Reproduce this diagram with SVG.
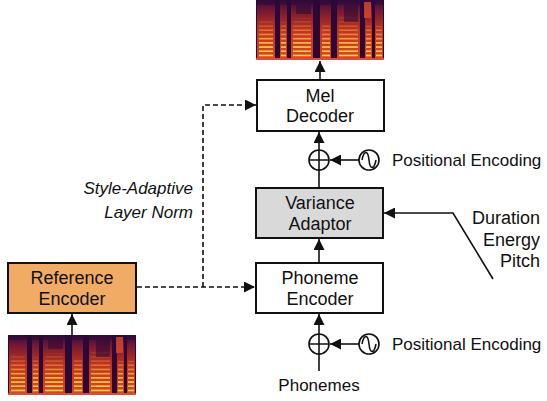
<svg xmlns="http://www.w3.org/2000/svg" width="547" height="401" viewBox="0 0 547 401">
<style>
text{font-family:"Liberation Sans",Arial,sans-serif;font-size:17px;fill:#111}
.b{font-size:18px}
.box{stroke:#111;stroke-width:2}
.ln{stroke:#111;stroke-width:1.6;fill:none}
.dash{stroke:#111;stroke-width:1.6;fill:none;stroke-dasharray:5 3}
.c{text-anchor:middle}
</style>
<defs>
<marker id="a" viewBox="0 0 10 10" refX="10" refY="5" markerWidth="11" markerHeight="11" orient="auto" markerUnits="userSpaceOnUse">
<path d="M0,0 L10,5 L0,10 z" fill="#111"/>
</marker>
<linearGradient id="sg" x1="0" y1="0" x2="0" y2="1">
<stop offset="0" stop-color="#3a0c40"/>
<stop offset="0.2" stop-color="#7a1a30"/>
<stop offset="0.5" stop-color="#c23420"/>
<stop offset="1" stop-color="#d9481c"/>
</linearGradient>
<pattern id="harm" width="6" height="4.2" patternUnits="userSpaceOnUse">
<rect width="6" height="1.7" fill="#ffd64e"/>
</pattern>
<linearGradient id="fade" x1="0" y1="0" x2="0" y2="1">
<stop offset="0" stop-color="#fff" stop-opacity="0"/>
<stop offset="0.4" stop-color="#fff" stop-opacity="0.15"/>
<stop offset="0.7" stop-color="#fff" stop-opacity="0.8"/>
<stop offset="1" stop-color="#fff" stop-opacity="1"/>
</linearGradient>
<mask id="hm"><rect width="128" height="60" fill="url(#fade)"/></mask>
<g id="spec">
<rect width="128" height="60" fill="#2a0838"/>
<g fill="url(#sg)">
<rect x="1" y="0" width="18" height="60"/>
<rect x="24" y="0" width="7" height="60"/>
<rect x="35" y="0" width="22" height="60"/>
<rect x="64" y="0" width="11" height="60"/>
<rect x="81" y="0" width="23" height="60"/>
<rect x="109" y="0" width="7" height="60"/>
<rect x="119" y="0" width="8" height="60"/>
</g>
<g fill="url(#harm)" mask="url(#hm)">
<rect x="3" y="20" width="14" height="38"/>
<rect x="25" y="22" width="5" height="36"/>
<rect x="37" y="18" width="18" height="40"/>
<rect x="66" y="24" width="8" height="34"/>
<rect x="83" y="16" width="19" height="42"/>
<rect x="110" y="26" width="5" height="32"/>
<rect x="120" y="26" width="6" height="32"/>
</g>
<g fill="#2a0838" opacity="0.55">
<rect x="88" y="0" width="14" height="22"/>
<rect x="40" y="0" width="15" height="14"/>
<rect x="0" y="0" width="128" height="5"/>
</g>
<rect x="108" y="2" width="7" height="16" fill="#d84a28" opacity="0.8"/>
<rect x="0" y="58" width="128" height="2" fill="#d4503c"/>
</g>
</defs>

<g id="spec-out"><use href="#spec" x="256" y="0"/></g>
<g id="spec-in"><use href="#spec" x="8" y="335"/></g>

<g id="mel-decoder">
<rect class="box" x="257" y="80" width="127" height="51" fill="#fff"/>
<text class="c b" x="320" y="101.5">Mel</text>
<text class="c b" x="320" y="122">Decoder</text>
</g>
<g id="variance-adaptor">
<rect class="box" x="256" y="188" width="127" height="50" fill="#d9d9d9"/>
<text class="c b" x="320" y="209">Variance</text>
<text class="c b" x="320" y="229.5">Adaptor</text>
</g>
<g id="phoneme-encoder">
<rect class="box" x="256" y="263" width="127" height="50" fill="#fff"/>
<text class="c b" x="320" y="284">Phoneme</text>
<text class="c b" x="320" y="304.5">Encoder</text>
</g>
<g id="reference-encoder">
<rect class="box" x="8" y="263" width="128" height="50" fill="#f0ac65"/>
<text class="c b" x="72" y="284">Reference</text>
<text class="c b" x="72" y="304.5">Encoder</text>
</g>

<g id="add-top">
<circle class="ln" cx="319" cy="160" r="10"/>
<path class="ln" d="M309,160 H329 M319,150 V170"/>
</g>
<g id="pe-top">
<circle class="ln" cx="369" cy="160" r="10"/>
<path class="ln" d="M362,160 C364,150 368,150 369,160 C370,170 374,170 376,160"/>
<text x="392" y="166">Positional Encoding</text>
</g>
<g id="add-bot">
<circle class="ln" cx="319" cy="344" r="10"/>
<path class="ln" d="M309,344 H329 M319,334 V354"/>
</g>
<g id="pe-bot">
<circle class="ln" cx="369" cy="344" r="10"/>
<path class="ln" d="M362,344 C364,334 368,334 369,344 C370,354 374,354 376,344"/>
<text x="392" y="350">Positional Encoding</text>
</g>
<g id="phonemes"><text class="c" x="319" y="391">Phonemes</text></g>
<g id="vars">
<text class="b" x="540" y="224" text-anchor="end">Duration</text>
<text class="b" x="540" y="246" text-anchor="end">Energy</text>
<text class="b" x="540" y="267" text-anchor="end">Pitch</text>
</g>
<g id="sal">
<text x="193" y="194" text-anchor="end" font-style="italic">Style-Adaptive</text>
<text x="193" y="218" text-anchor="end" font-style="italic">Layer Norm</text>
</g>

<g id="connectors">
<path class="ln" d="M320,80 V61" marker-end="url(#a)"/>
<path class="ln" d="M319,170 V188"/>
<path class="ln" d="M319,150 V132" marker-end="url(#a)"/>
<path class="ln" d="M359,160 H330" marker-end="url(#a)"/>
<path class="ln" d="M319,263 V239" marker-end="url(#a)"/>
<path class="ln" d="M319,371 V354"/>
<path class="ln" d="M319,334 V314" marker-end="url(#a)"/>
<path class="ln" d="M359,344 H330" marker-end="url(#a)"/>
<path class="ln" d="M493,279 L453,213 H384" marker-end="url(#a)"/>
<path class="ln" d="M72,335 V314" marker-end="url(#a)"/>
<path class="dash" d="M137,287 H255" marker-end="url(#a)"/>
<path class="dash" d="M203,287 V105 H256" marker-end="url(#a)"/>
</g>
</svg>
